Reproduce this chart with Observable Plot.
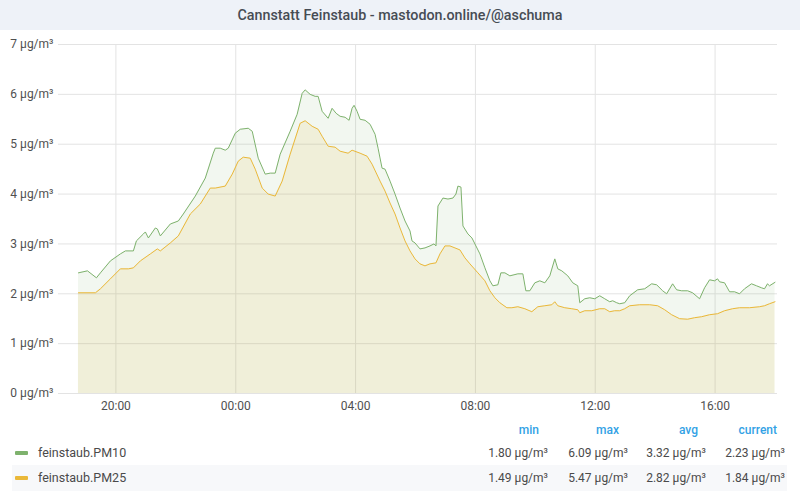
<!DOCTYPE html>
<html>
<head>
<meta charset="utf-8">
<script src="https://cdn.jsdelivr.net/npm/d3@7"></script>
<script src="https://cdn.jsdelivr.net/npm/@observablehq/plot@0.6"></script>
<style>
  html, body { margin: 0; padding: 0; background: #fff; }
  body { font-family: Roboto, "Noto Sans", sans-serif; width: 800px; height: 500px; position: relative; overflow: hidden; }
  #title { position: absolute; left: 0; top: 0; width: 800px; height: 30px; background: #eef2f8; color: #464c54; font-size: 14.3px; font-weight: 500; text-align: center; line-height: 30px; }
  #chart { position: absolute; left: 0; top: 30px; }
  .lg { position: absolute; font-size: 12px; color: #4a4a4a; white-space: nowrap; line-height: 18px; }
  .hdr { color: #33a2e5; font-weight: 500; }
  .row2bg { position: absolute; left: 12px; width: 775px; top: 465px; height: 26px; background: #f7f8fa; }
  .sw { position: absolute; width: 13px; height: 4px; border-radius: 1px; }
</style>
</head>
<body>
<div id="title">Cannstatt Feinstaub - mastodon.online/@aschuma</div>
<div id="chart"></div>
<div id="legend"></div>
<script>
// ---- data ----
const seriesNames = ["feinstaub.PM10", "feinstaub.PM25"];
const seriesColors = ["#7EB26D", "#EAB839"];

const pm10Times = ["18:45","19:03","19:21","19:29","19:49","20:09","20:19","20:35","20:41","20:55","20:59","21:05","21:19","21:23","21:29","21:49","22:05","22:15","22:39","22:59","23:15","23:19","23:29","23:39","23:45","23:59","00:09","00:25","00:33","00:45","00:59","01:09","01:19","01:29","01:49","02:03","02:13","02:19","02:29","02:39","02:45","02:53","03:05","03:13","03:21","03:29","03:39","03:47","03:53","03:57","04:03","04:09","04:19","04:29","04:39","04:45","04:53","04:59","05:09","05:19","05:29","05:39","05:49","05:53","05:59","06:09","06:19","06:29","06:37","06:41","06:45","06:55","07:05","07:15","07:21","07:25","07:31","07:35","07:45","07:53","08:09","08:19","08:29","08:35","08:45","08:51","08:59","09:09","09:25","09:35","09:41","09:49","09:59","10:09","10:19","10:29","10:39","10:45","10:53","11:05","11:15","11:25","11:29","11:39","11:49","11:59","12:09","12:19","12:29","12:35","12:43","12:49","12:59","13:09","13:25","13:39","13:53","14:03","14:15","14:23","14:35","14:43","14:53","15:05","15:15","15:29","15:39","15:49","15:59","16:05","16:09","16:19","16:29","16:39","16:49","16:59","17:13","17:23","17:33","17:39","17:45","17:49","18:00"];
const pm10Values = [2.42,2.46,2.32,2.42,2.66,2.80,2.86,2.86,3.06,3.20,3.24,3.12,3.32,3.30,3.16,3.40,3.46,3.60,3.96,4.32,4.82,4.92,4.92,4.88,4.92,5.22,5.30,5.32,5.26,4.72,4.40,4.42,4.42,4.80,5.26,5.60,6.02,6.09,6.00,5.96,5.96,5.66,5.52,5.72,5.62,5.56,5.54,5.48,5.72,5.78,5.66,5.50,5.48,5.40,5.20,4.92,4.52,4.50,4.26,4.00,3.72,3.46,3.26,3.06,3.02,2.90,2.92,2.96,3.00,2.96,3.76,3.92,3.90,3.92,4.00,4.16,4.14,3.36,3.20,3.12,2.80,2.52,2.26,2.16,2.18,2.42,2.42,2.36,2.40,2.40,2.06,2.06,2.22,2.26,2.22,2.36,2.70,2.50,2.46,2.36,2.22,2.16,1.82,1.90,1.92,1.90,1.96,1.90,1.84,1.86,1.82,1.80,1.82,1.96,2.08,2.10,2.20,2.18,2.06,2.00,2.20,2.08,2.06,2.06,2.02,1.90,2.12,2.28,2.26,2.30,2.24,2.22,2.04,2.04,2.00,2.10,2.20,2.16,2.12,2.10,2.20,2.16,2.23];

const pm25Times = ["18:45","19:19","19:29","19:49","20:09","20:25","20:35","20:49","21:09","21:23","21:29","21:49","22:05","22:29","22:49","23:09","23:19","23:39","23:53","00:05","00:15","00:29","00:39","00:53","01:05","01:19","01:33","01:49","02:09","02:19","02:33","02:45","02:53","03:05","03:19","03:29","03:45","03:53","04:09","04:23","04:33","04:49","04:59","05:09","05:19","05:29","05:39","05:49","05:59","06:09","06:19","06:29","06:41","06:49","06:59","07:09","07:19","07:29","07:39","07:49","08:05","08:19","08:29","08:39","08:49","09:03","09:13","09:25","09:39","09:53","10:05","10:19","10:33","10:39","10:45","10:59","11:13","11:25","11:29","11:39","11:53","12:09","12:19","12:29","12:39","12:49","12:59","13:09","13:29","13:49","14:05","14:19","14:33","14:49","15:05","15:19","15:33","15:49","16:05","16:19","16:35","16:49","17:09","17:29","17:39","17:49","18:00"];
const pm25Values = [2.02,2.02,2.10,2.30,2.50,2.50,2.52,2.66,2.80,2.90,2.86,3.02,3.16,3.60,3.80,4.12,4.12,4.16,4.40,4.66,4.74,4.72,4.50,4.12,4.00,3.96,4.26,4.80,5.42,5.47,5.36,5.30,5.16,4.96,4.94,4.86,4.82,4.88,4.82,4.76,4.60,4.26,4.06,3.82,3.60,3.32,3.06,2.86,2.70,2.60,2.56,2.60,2.62,2.80,2.96,2.96,2.92,2.88,2.72,2.60,2.42,2.26,2.06,1.92,1.82,1.72,1.72,1.74,1.70,1.64,1.74,1.76,1.78,1.84,1.76,1.72,1.70,1.68,1.62,1.66,1.66,1.70,1.70,1.64,1.66,1.66,1.70,1.76,1.78,1.78,1.76,1.68,1.58,1.50,1.49,1.52,1.54,1.58,1.60,1.66,1.70,1.72,1.72,1.74,1.76,1.80,1.84];

const yTicks = [0, 1, 2, 3, 4, 5, 6, 7];
const xTickLabels = ["20:00", "00:00", "04:00", "08:00", "12:00", "16:00"];
const rangeStart = "18:05";   // last 24 hours window
const rangeEnd = "18:05";

const statHeaders = ["min", "max", "avg", "current"];
const pm10Stats = [1.80, 6.09, 3.32, 2.23];
const pm25Stats = [1.49, 5.47, 2.82, 1.84];

// ---- helpers ----
function parseSeq(times) {
  let day = 0, prev = -1;
  return times.map(t => {
    const [h, m] = t.split(":").map(Number);
    const mins = h * 60 + m;
    if (mins < prev) day++;
    prev = mins;
    return new Date(2023, 0, 1 + day, h, m);
  });
}
function at(t, day) {
  const [h, m] = t.split(":").map(Number);
  return new Date(2023, 0, 1 + day, h, m);
}
const pm10 = parseSeq(pm10Times).map((d, i) => ({date: d, value: pm10Values[i]}));
const pm25 = parseSeq(pm25Times).map((d, i) => ({date: d, value: pm25Values[i]}));
const xTicks = parseSeq(["19:00"].concat(xTickLabels)).slice(1);
const domain = [at(rangeStart, 0), at(rangeEnd, 1)];

const gridColor = "#e3e3e3";
const chart = Plot.plot({
  width: 800,
  height: 392,
  marginLeft: 58,
  marginRight: 23,
  marginTop: 14,
  marginBottom: 29,
  style: {fontFamily: "Roboto, sans-serif", fontSize: "12px", color: "#505050", background: "transparent"},
  x: {type: "time", domain, ticks: xTicks, tickFormat: d3.timeFormat("%H:%M"), label: null, tickSize: 0, tickPadding: 8},
  y: {domain: [0, 7], ticks: yTicks, tickFormat: d => `${d} µg/m³`, label: null, tickSize: 0, tickPadding: 5},
  marks: [
    Plot.gridY(yTicks, {stroke: gridColor, strokeOpacity: 1}),
    Plot.gridX(xTicks, {stroke: gridColor, strokeOpacity: 1}),
    Plot.areaY(pm10, {x: "date", y: "value", fill: seriesColors[0], fillOpacity: 0.1}),
    Plot.areaY(pm25, {x: "date", y: "value", fill: seriesColors[1], fillOpacity: 0.12}),
    Plot.lineY(pm10, {x: "date", y: "value", stroke: seriesColors[0], strokeWidth: 1}),
    Plot.lineY(pm25, {x: "date", y: "value", stroke: seriesColors[1], strokeWidth: 1}),
    Plot.axisX({ticks: xTicks, tickFormat: d3.timeFormat("%H:%M"), tickSize: 0, tickPadding: 8, fill: "#505050"}),
    Plot.axisY({ticks: yTicks, tickFormat: d => `${d} µg/m³`, tickSize: 0, tickPadding: 5, fill: "#505050"})
  ]
});
document.getElementById("chart").appendChild(chart);

// ---- legend table ----
const lg = document.getElementById("legend");
const colRight = [539, 619, 698, 777];
const valRight = [548, 628, 706, 785];
let html = `<div class="row2bg"></div>`;
statHeaders.forEach((h, i) => {
  html += `<div class="lg hdr" style="top:421px; right:${800 - colRight[i]}px">${h}</div>`;
});
const rows = [pm10Stats, pm25Stats];
const rowTop = [444, 469];
rows.forEach((stats, r) => {
  html += `<div class="sw" style="left:15px; top:${rowTop[r] + 7}px; background:${seriesColors[r]}"></div>`;
  html += `<div class="lg" style="left:38px; top:${rowTop[r]}px; font-size:12.5px">${seriesNames[r]}</div>`;
  stats.forEach((v, i) => {
    html += `<div class="lg" style="top:${rowTop[r]}px; right:${800 - valRight[i]}px">${v.toFixed(2)} µg/m³</div>`;
  });
});
lg.innerHTML = html;
</script>
</body>
</html>
